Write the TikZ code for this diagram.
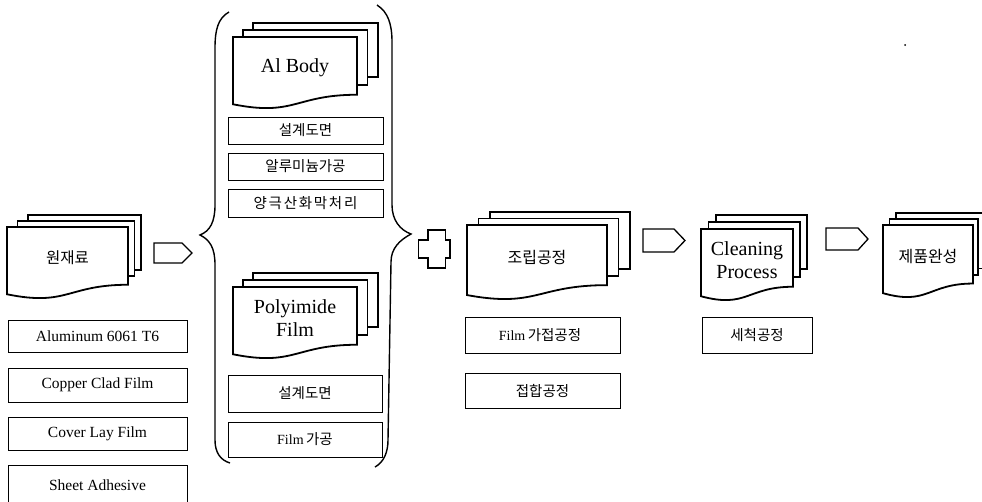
\documentclass[tikz,border=0pt]{standalone}
\usepackage{fontspec}
\setmainfont{Liberation Serif}
\newfontfamily\kr{Noto Sans CJK KR}
\newfontfamily\krsp{Noto Sans CJK KR}[LetterSpace=12]
\begin{document}
\begin{tikzpicture}[x=1pt,y=-1pt,
  sheet/.style={draw=black,fill=white,line width=1.8pt,line join=miter},
  boxstyle/.style={draw=black,line width=1pt},
  arrowshape/.style={draw=black,line width=1.3pt,line join=miter},
  bracestyle/.style={draw=black,line width=1.4pt},
  doctext/.style={align=center,inner sep=0pt,font=\fontsize{20}{22.5}\selectfont},
  boxtext/.style={inner sep=0pt,font=\fontsize{15.5}{18}\selectfont},
  krbox/.style={inner sep=0pt,font=\kr\fontsize{14.5}{17}\selectfont}]
\useasboundingbox (0,0) rectangle (982,501);

% multidocument stack: name, x1, y1, x2, h, dxl, dxr, dy, text
\newcommand\mdoc[9]{%
  \pgfmathsetmacro\rb{#3+0.802*#5}%
  \pgfmathsetmacro\lb{#3+0.934*#5}%
  \pgfmathsetmacro\cb{#3+1.107*#5}%
  \pgfmathsetmacro\mx{(#2+#4)/2}%
  \draw[sheet] (#2+2*#6,#3-2*#8) rectangle (#4+2*#7,\rb-2.5*#8);
  \draw[sheet] (#2+#6,#3-#8) rectangle (#4+#7,\rb-1.4*#8);
  \draw[sheet] (#2,#3) -- (#4,#3) -- (#4,\rb) .. controls (\mx,\rb) and (\mx,\cb) .. (#2,\lb) -- cycle;
  \node[doctext] (#1) at (\mx,#3+0.43*#5) {#9};
}

% stacks
\mdoc{raw}{7}{227}{128}{72}{10.5}{6.5}{6}{{\kr\fontsize{15.5}{18}\selectfont 원재료}}
\mdoc{al}{233}{37}{357}{72}{10}{10.5}{7}{Al Body}
\mdoc{pi}{233}{287}{357}{72}{10}{10.5}{7}{Polyimide\\Film}
\mdoc{asm}{467}{225}{607}{75}{11.5}{11.5}{6.5}{{\kr\fontsize{16}{18}\selectfont 조립공정}}
\mdoc{cln}{701}{229}{793}{72}{7.5}{7}{7}{Cleaning\\Process}
\mdoc{fin}{883}{225}{973}{73}{6.5}{5}{6}{{\kr\fontsize{16}{18}\selectfont 제품완성}}

% left material boxes
\draw[boxstyle] (8,320) rectangle (187,352);
\node[boxtext] (alu) at (97.5,336) {Aluminum 6061 T6};
\draw[boxstyle] (8,368) rectangle (187,402);
\node[boxtext] (cu) at (97.5,385) {Copper Clad Film};
\draw[boxstyle] (8,417) rectangle (187,450);
\node[boxtext] (cl) at (97.5,433.5) {Cover Lay Film};
\draw[boxstyle] (8,505) -- (8,465) -- (187,465) -- (187,505);
\node[boxtext] (sa) at (97.5,485) {Sheet Adhesive};

% Al body boxes
\draw[boxstyle] (228,117) rectangle (383,144);
\node[krbox] (a1) at (305.5,130.5) {설계도면};
\draw[boxstyle] (228,153) rectangle (383,180);
\node[krbox] (a2) at (305.5,166.5) {알루미늄가공};
\draw[boxstyle] (228,189) rectangle (383,217);
\node[inner sep=0pt,font=\krsp\fontsize{14.5}{17}\selectfont] (a3) at (305.5,203) {양극산화막처리};

% Polyimide boxes
\draw[boxstyle] (228,375) rectangle (382,412);
\node[krbox] (p1) at (305,393.5) {설계도면};
\draw[boxstyle] (228,422) rectangle (382,457);
\node[inner sep=0pt] (p2) at (305,439.5) {{\fontsize{14}{16}\selectfont Film} {\kr\fontsize{14.5}{17}\selectfont 가공}};

% assembly boxes
\draw[boxstyle] (465,317) rectangle (620,353);
\node[inner sep=0pt] (s1) at (540,335) {{\fontsize{14}{16}\selectfont Film} {\kr\fontsize{14.5}{17}\selectfont 가접공정}};
\draw[boxstyle] (465,373) rectangle (620,408);
\node[krbox] (s2) at (542.5,390.5) {접합공정};

% cleaning box
\draw[boxstyle] (702,317) rectangle (812,353);
\node[krbox] (c1) at (757,335) {세척공정};

% pentagon arrows
\draw[arrowshape] (154,243) -- (182,243) -- (192,253) -- (182,263) -- (154,263) -- cycle;
\draw[arrowshape] (643,229) -- (674,229) -- (685,240.5) -- (674,252) -- (643,252) -- cycle;
\draw[arrowshape] (826,228) -- (858,228) -- (868,239) -- (858,250) -- (826,250) -- cycle;

% plus sign
\draw[arrowshape] (428,230) -- (445.5,230) -- (445.5,240) -- (450,240) -- (450,258) -- (445.5,258)
  -- (445.5,268) -- (428,268) -- (428,258) -- (418.5,258) -- (418.5,240) -- (428,240) -- cycle;

% braces
\draw[bracestyle] (229,12) .. controls (218,18) and (215,30) .. (215,48)
  -- (215,205) .. controls (215,222) and (210,231) .. (200,235)
  .. controls (210,240) and (215,248) .. (215,265)
  -- (215,440) .. controls (215,452) and (220,460) .. (230,463);
\draw[bracestyle] (377,5) .. controls (388,12) and (392,24) .. (392,42)
  -- (392,205) .. controls (392,220) and (400,230) .. (411,234)
  .. controls (400,240) and (391,248) .. (391,262)
  -- (388,440) .. controls (388,452) and (384,462) .. (375,467);

% stray dot
\fill (905,45) circle (1);
\end{tikzpicture}
\end{document}
